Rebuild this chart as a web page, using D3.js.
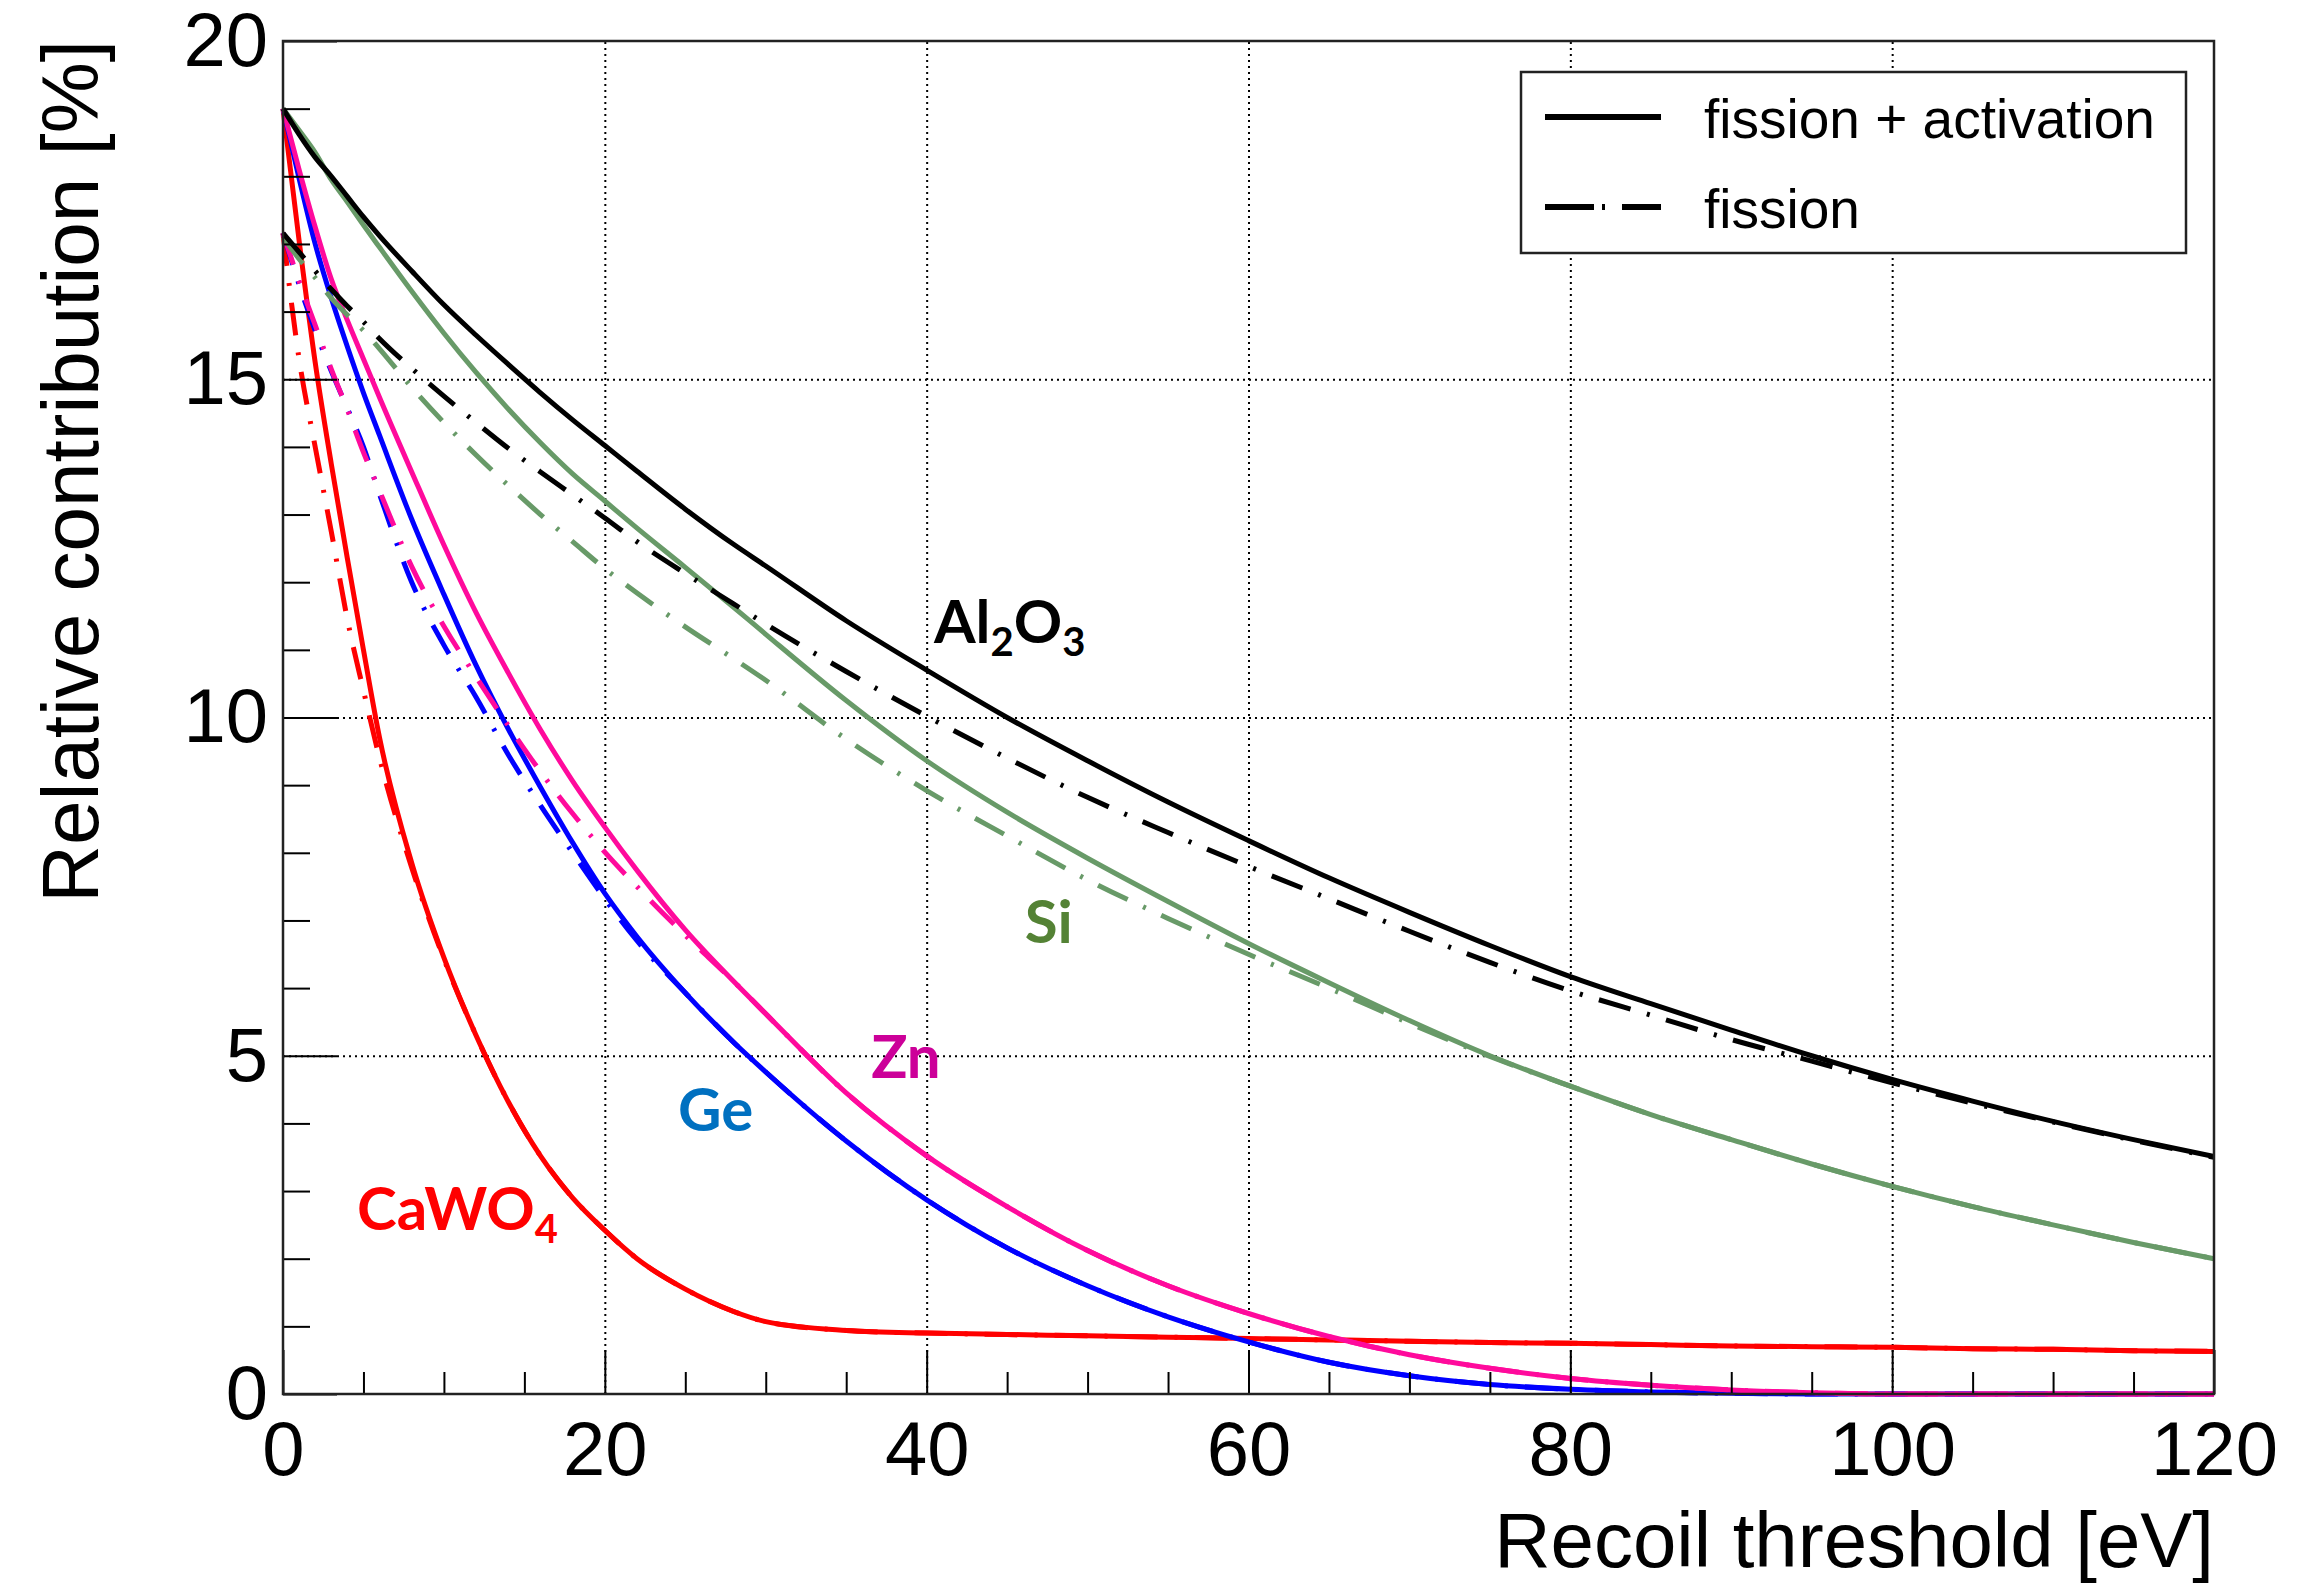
<!DOCTYPE html>
<html>
<head>
<meta charset="utf-8">
<script src="https://d3js.org/d3.v7.min.js"></script>
<style>
  body { margin: 0; background: #ffffff; }
  text { font-family: "Liberation Sans", Arial, sans-serif; fill: #000; }
  .tag { font-family: Lato, "Open Sans", sans-serif; font-weight: 700; }
  .grid line { stroke: #000; stroke-width: 2; stroke-dasharray: 2 4; }
  .ticks line { stroke: #000; stroke-width: 2; }
</style>
</head>
<body>
<div id="chart"></div>
<script>
// recoil threshold [eV]
var thresholds = [0, 1, 2, 3, 4, 5, 6, 8, 10, 12, 14, 16, 18, 20, 22, 25, 28, 30, 35, 40,
                  45, 50, 55, 60, 65, 70, 75, 80, 85, 90, 95, 100, 105, 110, 115, 120];

// relative contribution [%], fission + activation (solid) and fission only (dash-dot)
var al2o3All = [19.0, 18.62, 18.28, 18.0, 17.7, 17.4, 17.12, 16.6, 16.1, 15.65, 15.22, 14.8, 14.4, 14.02, 13.64, 13.08, 12.56, 12.24, 11.43, 10.7,
                10.0, 9.36, 8.75, 8.18, 7.63, 7.12, 6.63, 6.17, 5.77, 5.38, 5.0, 4.65, 4.33, 4.03, 3.76, 3.51];
var al2o3Fis = [17.16, 16.88, 16.6, 16.33, 16.08, 15.85, 15.6, 15.16, 14.75, 14.36, 13.98, 13.63, 13.29, 12.95, 12.6, 12.13, 11.68, 11.38, 10.68, 10.02,
                9.4, 8.82, 8.3, 7.8, 7.32, 6.84, 6.38, 5.96, 5.6, 5.24, 4.92, 4.6, 4.3, 4.02, 3.75, 3.5];
var siAll    = [19.0, 18.68, 18.35, 17.95, 17.62, 17.28, 16.95, 16.3, 15.68, 15.1, 14.56, 14.06, 13.6, 13.2, 12.8, 12.22, 11.63, 11.23, 10.25, 9.36,
                8.6, 7.92, 7.28, 6.66, 6.08, 5.52, 5.0, 4.55, 4.13, 3.76, 3.4, 3.07, 2.77, 2.5, 2.24, 2.0];
var siFis    = [17.1, 16.78, 16.5, 16.2, 15.95, 15.72, 15.45, 14.88, 14.36, 13.88, 13.43, 13.0, 12.6, 12.2, 11.84, 11.34, 10.87, 10.55, 9.68, 8.92,
                8.25, 7.6, 7.03, 6.5, 6.0, 5.48, 4.99, 4.55, 4.13, 3.76, 3.4, 3.07, 2.77, 2.5, 2.24, 2.0];
var znAll    = [19.0, 18.1, 17.25, 16.48, 15.87, 15.3, 14.73, 13.63, 12.55, 11.55, 10.66, 9.82, 9.06, 8.38, 7.74, 6.86, 6.1, 5.62, 4.45, 3.52,
                2.77, 2.12, 1.6, 1.19, 0.85, 0.58, 0.38, 0.23, 0.13, 0.06, 0.02, 0, 0, 0, 0, 0];
var znFis    = [17.16, 16.45, 15.8, 15.15, 14.55, 13.92, 13.35, 12.23, 11.35, 10.6, 9.88, 9.2, 8.58, 8.01, 7.5, 6.78, 6.1, 5.62, 4.45, 3.52,
                2.77, 2.12, 1.6, 1.19, 0.85, 0.58, 0.38, 0.23, 0.13, 0.06, 0.02, 0, 0, 0, 0, 0];
var geAll    = [19.0, 17.97, 17.0, 16.2, 15.48, 14.8, 14.17, 12.93, 11.82, 10.77, 9.83, 8.97, 8.15, 7.4, 6.76, 5.93, 5.2, 4.76, 3.74, 2.87,
                2.16, 1.6, 1.14, 0.77, 0.47, 0.27, 0.14, 0.07, 0.03, 0.01, 0, 0, 0, 0, 0, 0];
var geFis    = [17.16, 16.4, 15.72, 15.12, 14.57, 14.0, 13.3, 12.0, 11.07, 10.3, 9.45, 8.7, 8.0, 7.32, 6.7, 5.93, 5.2, 4.76, 3.74, 2.87,
                2.16, 1.6, 1.14, 0.77, 0.47, 0.27, 0.14, 0.07, 0.03, 0.01, 0, 0, 0, 0, 0, 0];
var cawo4All = [19.0, 17.05, 15.25, 13.75, 12.35, 11.0, 9.7, 7.85, 6.45, 5.3, 4.32, 3.52, 2.9, 2.42, 2.0, 1.55, 1.22, 1.07, 0.94, 0.9,
                0.88, 0.86, 0.84, 0.82, 0.8, 0.78, 0.76, 0.75, 0.73, 0.71, 0.7, 0.69, 0.67, 0.66, 0.64, 0.63];
var cawo4Fis = [17.16, 15.3, 14.0, 12.75, 11.45, 10.4, 9.4, 7.78, 6.43, 5.3, 4.32, 3.52, 2.9, 2.42, 2.0, 1.55, 1.22, 1.07, 0.94, 0.9,
                0.88, 0.86, 0.84, 0.82, 0.8, 0.78, 0.76, 0.75, 0.73, 0.71, 0.7, 0.69, 0.67, 0.66, 0.64, 0.63];

var xMajor = [0, 20, 40, 60, 80, 100, 120];
var yMajor = [0, 5, 10, 15, 20];
var legendLabels = ["fission + activation", "fission"];

var W = 2311, H = 1584;
var plotL = 283, plotR = 2214, plotT = 41, plotB = 1394;
var dashDot = "33 17 3 17";

var series = [
    { name: "CaWO4", vals: cawo4Fis, color: "#ff0000", dash: dashDot },
    { name: "CaWO4", vals: cawo4All, color: "#ff0000", dash: null },
    { name: "Ge",    vals: geFis,    color: "#0000ff", dash: dashDot },
    { name: "Ge",    vals: geAll,    color: "#0000ff", dash: null },
    { name: "Zn",    vals: znFis,    color: "#ff0a9c", dash: dashDot },
    { name: "Zn",    vals: znAll,    color: "#ff0a9c", dash: null },
    { name: "Si",    vals: siFis,    color: "#689a68", dash: dashDot },
    { name: "Si",    vals: siAll,    color: "#689a68", dash: null },
    { name: "Al2O3", vals: al2o3Fis, color: "#000000", dash: dashDot },
    { name: "Al2O3", vals: al2o3All, color: "#000000", dash: null }
];

// material tags, placed in data units
var tags = [
    { main: "Al", sub: "2", main2: "O", sub2: "3", x: 40.45, y: 11.1, color: "#000000" },
    { main: "Si", x: 46.1, y: 6.67, color: "#548235" },
    { main: "Zn", x: 36.55, y: 4.67, color: "#cc0099" },
    { main: "Ge", x: 24.55, y: 3.89, color: "#0070c0" },
    { main: "CaWO", sub: "4", x: 4.6, y: 2.42, color: "#ff0000" }
];

var svg = d3.select("#chart").append("svg")
    .attr("width", W).attr("height", H);

var x = d3.scaleLinear().domain([0, 120]).range([plotL, plotR]);
var y = d3.scaleLinear().domain([0, 20]).range([plotB, plotT]);

// dotted grid
svg.append("g").attr("class", "grid")
    .attr("transform", "translate(0," + plotB + ")")
    .call(d3.axisBottom(x).tickValues(xMajor.slice(1, -1)).tickSize(-(plotB - plotT)).tickFormat(""))
    .call(function(g) { g.select(".domain").remove(); });
svg.append("g").attr("class", "grid")
    .attr("transform", "translate(" + plotL + ",0)")
    .call(d3.axisLeft(y).tickValues(yMajor.slice(1, -1)).tickSize(-(plotR - plotL)).tickFormat(""))
    .call(function(g) { g.select(".domain").remove(); });

// curves
var line = d3.line()
    .x(function(d) { return x(d[0]); })
    .y(function(d) { return y(d[1]); })
    .curve(d3.curveMonotoneX);

svg.append("g").selectAll("path").data(series).enter().append("path")
    .attr("d", function(s) { return line(thresholds.map(function(t, i) { return [t, s.vals[i]]; })); })
    .attr("fill", "none")
    .attr("stroke", function(s) { return s.color; })
    .attr("stroke-width", 5)
    .attr("stroke-dasharray", function(s) { return s.dash; });

// axes: ticks point inward like ROOT
svg.append("g").attr("class", "ticks")
    .attr("transform", "translate(0," + plotB + ")")
    .call(d3.axisBottom(x).tickValues(xMajor).tickSize(-44).tickPadding(27).tickFormat(d3.format("d")));
svg.append("g").attr("class", "ticks")
    .attr("transform", "translate(0," + plotB + ")")
    .call(d3.axisBottom(x).tickValues(d3.range(5, 120, 5).filter(function(v) { return v % 20; })).tickSize(-22).tickFormat(""));
svg.append("g").attr("class", "ticks")
    .attr("transform", "translate(" + plotL + ",0)")
    .call(d3.axisLeft(y).tickValues(yMajor).tickSize(-54).tickPadding(15).tickFormat(d3.format("d")));
svg.append("g").attr("class", "ticks")
    .attr("transform", "translate(" + plotL + ",0)")
    .call(d3.axisLeft(y).tickValues(d3.range(1, 20).filter(function(v) { return v % 5; })).tickSize(-27).tickFormat(""));
svg.selectAll(".ticks .domain").remove();
svg.selectAll(".ticks text").attr("font-size", 76).attr("font-family", "Liberation Sans, Arial, sans-serif");

// frame
svg.append("rect")
    .attr("x", plotL).attr("y", plotT)
    .attr("width", plotR - plotL).attr("height", plotB - plotT)
    .attr("fill", "none").attr("stroke", "#222").attr("stroke-width", 2.5);

// axis titles
svg.append("text")
    .attr("x", plotR).attr("y", 1567)
    .attr("text-anchor", "end").attr("font-size", 78)
    .text("Recoil threshold [eV]");
svg.append("text")
    .attr("transform", "translate(98," + (plotT - 1) + ") rotate(-90)")
    .attr("text-anchor", "end").attr("font-size", 80)
    .text("Relative contribution [%]");

// legend
var legend = svg.append("g");
legend.append("rect")
    .attr("x", 1521).attr("y", 72).attr("width", 665).attr("height", 181)
    .attr("fill", "#fff").attr("stroke", "#222").attr("stroke-width", 2.5);
legendLabels.forEach(function(lbl, i) {
    var ly = 117 + i * 90;
    legend.append("line")
        .attr("x1", 1545).attr("x2", 1661).attr("y1", ly).attr("y2", ly)
        .attr("stroke", "#000").attr("stroke-width", 6)
        .attr("stroke-dasharray", i ? "49 8 3 17" : null);
    legend.append("text")
        .attr("x", 1704).attr("y", ly + 21)
        .attr("font-size", 55)
        .text(lbl);
});

// material tags
tags.forEach(function(t) {
    var txt = svg.append("text").attr("class", "tag")
        .attr("x", x(t.x)).attr("y", y(t.y))
        .attr("font-size", 60).style("fill", t.color);
    txt.append("tspan").text(t.main);
    if (t.sub) txt.append("tspan").attr("dy", 13).attr("font-size", 40).text(t.sub);
    if (t.main2) txt.append("tspan").attr("dy", -13).text(t.main2);
    if (t.sub2) txt.append("tspan").attr("dy", 13).attr("font-size", 40).text(t.sub2);
});
</script>
</body>
</html>
